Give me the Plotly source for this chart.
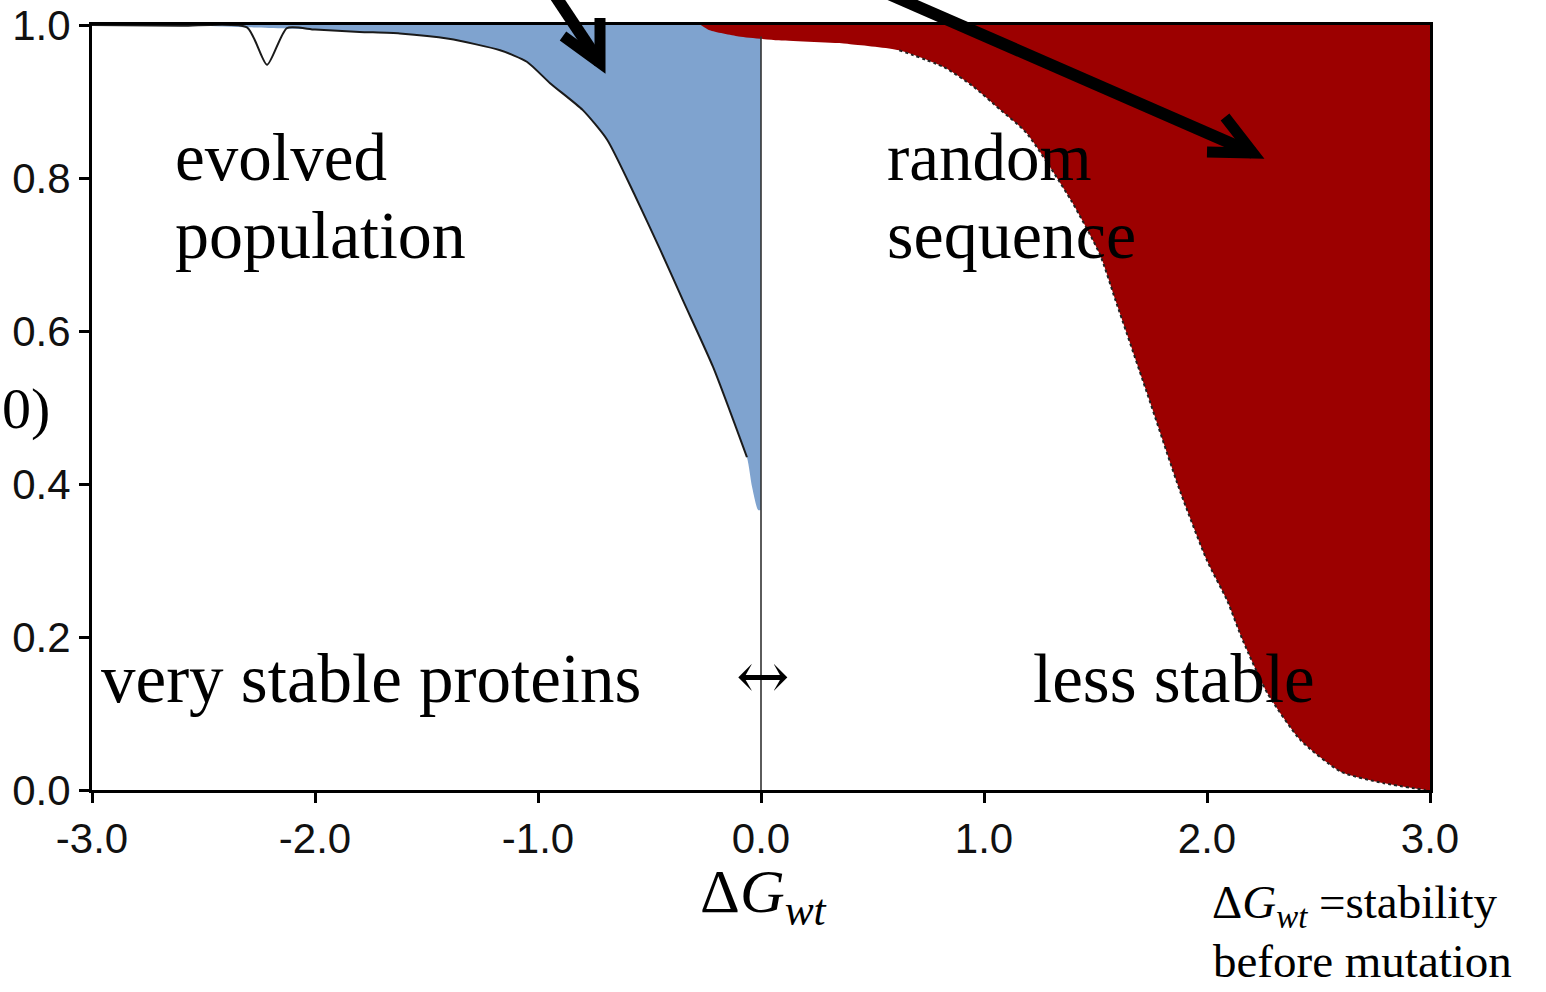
import plotly.graph_objects as go

# ---------------- data ----------------
# evolved population: filled region between curve and 1.0
evolved_x = [-2.60, -2.30, -2.00, -1.80, -1.62, -1.40, -1.17, -1.05, -0.946, -0.80,
             -0.69, -0.57, -0.45, -0.35, -0.215, -0.063, -0.04, -0.013, 0.0]
evolved_y = [1.000, 0.997, 0.994, 0.991, 0.989, 0.982, 0.967, 0.952, 0.924, 0.889,
             0.850, 0.780, 0.705, 0.640, 0.553, 0.435, 0.396, 0.366, 0.366]

# original black curve of the evolved population (with the small dip)
evolved_line_x = [-3.0, -2.60, -2.305, -2.215, -2.126, -2.00, -1.80, -1.62, -1.40, -1.17,
                  -1.05, -0.946, -0.80, -0.69, -0.57, -0.45, -0.35, -0.215, -0.063]
evolved_line_y = [1.000, 0.999, 0.997, 0.948, 0.996, 0.994, 0.991, 0.989, 0.982, 0.967,
                  0.952, 0.924, 0.889, 0.850, 0.780, 0.705, 0.640, 0.553, 0.435]

# random sequence: filled region between curve and 1.0
random_x = [-0.27, -0.23, -0.10, 0.08, 0.40, 0.62, 0.82, 0.95, 1.07, 1.19, 1.39,
            1.52, 1.59, 1.73, 1.88, 2.00, 2.09, 2.16, 2.27, 2.42, 2.60, 2.79, 2.98, 3.00]
random_y = [1.000, 0.993, 0.985, 0.980, 0.975, 0.967, 0.945, 0.920, 0.890, 0.859, 0.771,
            0.700, 0.640, 0.520, 0.390, 0.300, 0.248, 0.196, 0.127, 0.065, 0.024, 0.009, 0.000, 0.000]

x_ticks = [-3, -2, -1, 0, 1, 2, 3]
x_tick_labels = ["-3.0", "-2.0", "-1.0", "0.0", "1.0", "2.0", "3.0"]
y_ticks = [0.0, 0.2, 0.4, 0.6, 0.8, 1.0]
y_tick_labels = ["0.0", "0.2", "0.4", "0.6", "0.8", "1.0"]

BLUE = "#7FA3CF"
RED = "#9C0000"
SERIF = "Liberation Serif"

fig = go.Figure()

# top edge (1.0) for the blue fill, then the curve filled to it
fig.add_trace(go.Scatter(
    x=[evolved_x[0], evolved_x[-1]], y=[1.0, 1.0], mode="lines",
    line=dict(width=0), hoverinfo="skip", showlegend=False))
fig.add_trace(go.Scatter(
    x=evolved_x, y=evolved_y, fill="tonexty", fillcolor=BLUE, mode="lines",
    line=dict(width=0, shape="spline", smoothing=0.6), hoverinfo="skip", showlegend=False))

# top edge for the red fill, then the curve filled to it
fig.add_trace(go.Scatter(
    x=[random_x[0], random_x[-1]], y=[1.0, 1.0], mode="lines",
    line=dict(width=0), hoverinfo="skip", showlegend=False))
fig.add_trace(go.Scatter(
    x=random_x, y=random_y, fill="tonexty", fillcolor=RED, mode="lines",
    line=dict(width=0, shape="spline", smoothing=0.6), hoverinfo="skip", showlegend=False))

# black outline of evolved curve
fig.add_trace(go.Scatter(
    x=evolved_line_x, y=evolved_line_y, mode="lines",
    line=dict(color="#1a1a1a", width=2, shape="spline", smoothing=0.6),
    hoverinfo="skip", showlegend=False))

# dotted edge on the random curve
start = random_x.index(0.62)
fig.add_trace(go.Scatter(
    x=random_x[start:-1], y=random_y[start:-1], mode="lines",
    line=dict(color="#222222", width=2, dash="dot", shape="spline", smoothing=0.6),
    hoverinfo="skip", showlegend=False))

# vertical line at 0
fig.add_trace(go.Scatter(
    x=[0, 0], y=[0, random_y[2]], mode="lines",
    line=dict(color="#333333", width=1.6), hoverinfo="skip", showlegend=False))

# ---------------- arrows (paper coords) ----------------
def px(p):
    return (p - 92) / 1338.0

def py(p):
    return (790 - p) / 765.0

arrows = [
    # (start, tip, arm1, arm2) in pixel positions
    ((550, -12), (600, 63), (563, 36), (600, 18)),
    ((875, -12), (1253, 153), (1225, 117), (1207, 152)),
]
shapes = []
for (s, t, a1, a2) in arrows:
    shapes.append(dict(type="path", xref="paper", yref="paper",
                       path=f"M{px(s[0])},{py(s[1])} L{px(t[0])},{py(t[1])}",
                       line=dict(color="black", width=12), layer="above"))
    shapes.append(dict(type="path", xref="paper", yref="paper",
                       path=f"M{px(a1[0])},{py(a1[1])} L{px(t[0])},{py(t[1])} L{px(a2[0])},{py(a2[1])}",
                       line=dict(color="black", width=11), layer="above"))

# ---------------- annotations ----------------
def txt(text, x, y, size, xanchor="left", yanchor="middle", font=SERIF):
    return dict(text=text, x=x, y=y, xref="paper", yref="paper", showarrow=False,
                xanchor=xanchor, yanchor=yanchor,
                font=dict(family=font, size=size, color="black"))

annotations = [
    txt("evolved", px(173), py(157), 67),
    txt("population", px(173), py(235), 68),
    txt("random", px(885), py(157), 67),
    txt("sequence", px(885), py(235), 68),
    txt("very stable proteins", px(99), py(679), 69),
    txt("less stable", px(1031), py(679), 69),
    txt("↔", px(763), py(676), 64, xanchor="center", font="DejaVu Serif"),
    txt("Δ<i>G</i><sub><i>wt</i></sub>", px(763), py(895), 62, xanchor="center"),
    txt("Δ<i>G</i><sub><i>wt</i></sub> =stability", px(1210), py(906), 47),
    txt("before mutation", px(1211), py(961), 47),
    txt("0)", px(0), py(408), 58),
]

fig.update_layout(
    width=1546, height=992,
    margin=dict(l=92, r=116, t=25, b=202, autoexpand=False),
    paper_bgcolor="white", plot_bgcolor="white",
    shapes=shapes, annotations=annotations,
    showlegend=False,
    xaxis=dict(range=[-3, 3], tickvals=x_ticks, ticktext=x_tick_labels,
               automargin=False,
               showgrid=False, zeroline=False, showline=True, linecolor="black",
               linewidth=3, mirror=True, ticks="outside", ticklen=10, tickwidth=3,
               tickcolor="black", ticklabelstandoff=0,
               tickfont=dict(family="Liberation Sans", size=42, color="#111111")),
    yaxis=dict(range=[0, 1], tickvals=y_ticks, ticktext=y_tick_labels,
               automargin=False,
               showgrid=False, zeroline=False, showline=True, linecolor="black",
               linewidth=3, mirror=True, ticks="outside", ticklen=10, tickwidth=3,
               tickcolor="black",
               tickfont=dict(family="Liberation Sans", size=42, color="#111111")),
)

fig.write_html("out.html", config={"displayModeBar": False},
               post_script="document.body.style.margin='0px';document.body.style.overflow='hidden';")
